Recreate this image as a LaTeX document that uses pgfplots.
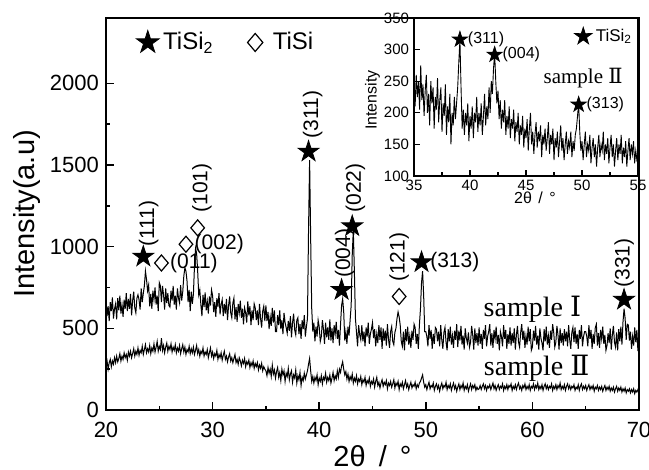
\documentclass[border=0pt]{standalone}
\usepackage{pgfplots}
\usepackage{pgfplotstable}
\usepackage{fontspec}
\pgfplotsset{compat=1.18}
\setmainfont{Liberation Sans}
\newfontfamily\serifnum{Liberation Serif}
\newfontfamily\romnum{DejaVu Serif}

% filled five-pointed star and open diamond
\pgfdeclareplotmark{fstar}{%
  \pgfpathmoveto{\pgfpointpolar{90}{\pgfplotmarksize}}%
  \pgfpathlineto{\pgfpointpolar{126}{0.38\pgfplotmarksize}}%
  \pgfpathlineto{\pgfpointpolar{162}{\pgfplotmarksize}}%
  \pgfpathlineto{\pgfpointpolar{198}{0.38\pgfplotmarksize}}%
  \pgfpathlineto{\pgfpointpolar{234}{\pgfplotmarksize}}%
  \pgfpathlineto{\pgfpointpolar{270}{0.38\pgfplotmarksize}}%
  \pgfpathlineto{\pgfpointpolar{306}{\pgfplotmarksize}}%
  \pgfpathlineto{\pgfpointpolar{342}{0.38\pgfplotmarksize}}%
  \pgfpathlineto{\pgfpointpolar{18}{\pgfplotmarksize}}%
  \pgfpathlineto{\pgfpointpolar{54}{0.38\pgfplotmarksize}}%
  \pgfpathclose\pgfusepathqfillstroke}
\pgfdeclareplotmark{odiam}{%
  \pgfpathmoveto{\pgfpoint{0pt}{\pgfplotmarksize}}%
  \pgfpathlineto{\pgfpoint{0.85\pgfplotmarksize}{0pt}}%
  \pgfpathlineto{\pgfpoint{0pt}{-\pgfplotmarksize}}%
  \pgfpathlineto{\pgfpoint{-0.85\pgfplotmarksize}{0pt}}%
  \pgfpathclose\pgfusepathqfillstroke}
\pgfplotsset{dotlegend/.style={legend image code/.code={\draw[##1] plot coordinates {(0.1cm,0cm)};}}}

% sample I, 2theta (deg) vs intensity
\pgfplotstableread{
x y
20.0 675
20.1 575
20.2 635
20.3 545
20.4 660
20.5 605
20.6 690
20.7 560
20.8 620
20.9 650
21.0 555
21.1 685
21.2 610
21.3 700
21.4 590
21.5 645
21.6 570
21.7 675
21.8 620
21.9 715
22.0 605
22.1 680
22.2 620
22.3 710
22.4 580
22.5 670
22.6 725
22.7 625
22.8 595
22.9 685
23.0 705
23.1 675
23.2 615
23.3 745
23.4 660
23.5 715
23.6 760
23.7 850
23.8 800
23.9 730
24.0 765
24.1 635
24.2 710
24.3 620
24.4 730
24.5 675
24.6 750
24.7 645
24.8 700
24.9 605
25.0 780
25.1 760
25.2 660
25.3 760
25.4 705
25.5 615
25.6 745
25.7 655
25.8 715
25.9 640
26.0 630
26.1 730
26.2 670
26.3 760
26.4 645
26.5 700
26.6 615
26.7 745
26.8 685
26.9 655
27.0 765
27.1 670
27.2 725
27.3 820
27.4 870
27.5 850
27.6 790
27.7 660
27.8 735
27.9 605
28.0 725
28.1 650
28.2 710
28.3 880
28.4 990
28.5 960
28.6 850
28.7 705
28.8 735
28.9 645
29.0 575
29.1 705
29.2 630
29.3 720
29.4 610
29.5 665
29.6 590
29.7 695
29.8 640
29.9 735
30.0 700
30.1 600
30.2 660
30.3 570
30.4 685
30.5 630
30.6 715
30.7 585
30.8 645
30.9 675
31.0 575
31.1 650
31.2 590
31.3 680
31.4 550
31.5 640
31.6 695
31.7 595
31.8 565
31.9 655
32.0 685
32.1 555
32.2 630
32.3 540
32.4 650
32.5 595
32.6 670
32.7 565
32.8 620
32.9 525
33.0 625
33.1 595
33.2 535
33.3 665
33.4 580
33.5 635
33.6 520
33.7 610
33.8 550
33.9 650
34.0 625
34.1 550
34.2 610
34.3 520
34.4 650
34.5 560
34.6 505
34.7 605
34.8 635
34.9 545
35.0 640
35.1 545
35.2 600
35.3 495
35.4 570
35.5 515
35.6 625
35.7 535
35.8 610
35.9 480
36.0 480
36.1 580
36.2 520
36.3 610
36.4 495
36.5 550
36.6 465
36.7 595
36.8 535
36.9 505
37.0 470
37.1 545
37.2 485
37.3 575
37.4 445
37.5 535
37.6 590
37.7 490
37.8 460
37.9 550
38.0 565
38.1 465
38.2 525
38.3 435
38.4 550
38.5 495
38.6 580
38.7 450
38.8 510
38.9 560
39.0 1100
39.1 1530
39.2 1050
39.3 620
39.4 480
39.5 535
39.6 420
39.7 510
39.8 450
39.9 550
40.0 510
40.1 420
40.2 450
40.3 550
40.4 495
40.5 405
40.6 535
40.7 445
40.8 505
40.9 430
41.0 555
41.1 425
41.2 500
41.3 410
41.4 520
41.5 465
41.6 540
41.7 435
41.8 490
41.9 395
42.0 520
42.1 640
42.2 680
42.3 600
42.4 425
42.5 480
42.6 405
42.7 510
42.8 455
42.9 550
43.0 640
43.1 950
43.2 1100
43.3 850
43.4 560
43.5 475
43.6 390
43.7 520
43.8 460
43.9 430
44.0 520
44.1 420
44.2 480
44.3 390
44.4 505
44.5 450
44.6 535
44.7 405
44.8 465
44.9 495
45.0 535
45.1 440
45.2 495
45.3 390
45.4 465
45.5 410
45.6 520
45.7 430
45.8 505
45.9 375
46.0 500
46.1 425
46.2 485
46.3 395
46.4 525
46.5 435
46.6 380
46.7 480
46.8 510
46.9 420
47.0 400
47.1 475
47.2 500
47.3 560
47.4 600
47.5 570
47.6 520
47.7 420
47.8 390
47.9 480
48.0 365
48.1 495
48.2 420
48.3 510
48.4 400
48.5 455
48.6 380
48.7 485
48.8 430
48.9 525
49.0 505
49.1 405
49.2 465
49.3 375
49.4 520
49.5 620
49.6 780
49.7 850
49.8 700
49.9 480
50.0 480
50.1 450
50.2 390
50.3 520
50.4 435
50.5 490
50.6 375
50.7 465
50.8 405
50.9 505
51.0 495
51.1 420
51.2 480
51.3 390
51.4 520
51.5 430
51.6 375
51.7 475
51.8 505
51.9 415
52.0 365
52.1 495
52.2 420
52.3 510
52.4 400
52.5 455
52.6 380
52.7 485
52.8 430
52.9 525
53.0 385
53.1 485
53.2 425
53.3 515
53.4 400
53.5 455
53.6 370
53.7 500
53.8 440
53.9 410
54.0 475
54.1 385
54.2 415
54.3 515
54.4 460
54.5 370
54.6 500
54.7 410
54.8 470
54.9 395
55.0 505
55.1 405
55.2 465
55.3 375
55.4 490
55.5 435
55.6 520
55.7 390
55.8 450
55.9 480
56.0 525
56.1 395
56.2 470
56.3 380
56.4 490
56.5 435
56.6 510
56.7 405
56.8 460
56.9 365
57.0 480
57.1 450
57.2 390
57.3 520
57.4 435
57.5 490
57.6 375
57.7 465
57.8 405
57.9 505
58.0 395
58.1 470
58.2 410
58.3 500
58.4 370
58.5 460
58.6 515
58.7 415
58.8 385
58.9 475
59.0 525
59.1 430
59.2 485
59.3 380
59.4 455
59.5 400
59.6 510
59.7 420
59.8 495
59.9 365
60.0 385
60.1 485
60.2 425
60.3 515
60.4 400
60.5 455
60.6 370
60.7 500
60.8 440
60.9 410
61.0 365
61.1 495
61.2 420
61.3 510
61.4 400
61.5 455
61.6 380
61.7 485
61.8 430
61.9 525
62.0 475
62.1 385
62.2 415
62.3 515
62.4 460
62.5 370
62.6 500
62.7 410
62.8 470
62.9 395
63.0 495
63.1 420
63.2 480
63.3 390
63.4 520
63.5 430
63.6 375
63.7 475
63.8 505
63.9 415
64.0 505
64.1 405
64.2 465
64.3 375
64.4 490
64.5 435
64.6 520
64.7 390
64.8 450
64.9 480
65.0 480
65.1 450
65.2 390
65.3 520
65.4 435
65.5 490
65.6 375
65.7 465
65.8 405
65.9 505
66.0 525
66.1 395
66.2 470
66.3 380
66.4 490
66.5 435
66.6 510
66.7 405
66.8 460
66.9 365
67.0 395
67.1 470
67.2 410
67.3 500
67.4 370
67.5 460
67.6 515
67.7 415
67.8 385
67.9 475
68.0 365
68.1 495
68.2 420
68.3 510
68.4 400
68.5 540
68.6 620
68.7 560
68.8 430
68.9 525
69.0 520
69.1 425
69.2 480
69.3 375
69.4 450
69.5 395
69.6 505
69.7 415
69.8 490
69.9 360
70.0 450
}\sampleone

% sample II
\pgfplotstableread{
x y
20.0 270
20.1 300
20.2 250
20.3 290
20.4 310
20.5 265
20.6 300
20.7 280
20.8 320
20.9 290
21.0 330
21.1 295
21.2 315
21.3 345
21.4 300
21.5 330
21.6 310
21.7 350
21.8 320
21.9 340
22.0 305
22.1 355
22.2 330
22.3 360
22.4 320
22.5 345
22.6 375
22.7 330
22.8 360
22.9 340
23.0 380
23.1 335
23.2 365
23.3 350
23.4 390
23.5 340
23.6 370
23.7 400
23.8 350
23.9 375
24.0 355
24.1 395
24.2 345
24.3 380
24.4 360
24.5 405
24.6 355
24.7 385
24.8 420
24.9 360
25.0 390
25.1 370
25.2 440
25.3 365
25.4 395
25.5 350
25.6 385
25.7 410
25.8 360
25.9 390
26.0 370
26.1 405
26.2 355
26.3 385
26.4 365
26.5 400
26.6 350
26.7 380
26.8 360
26.9 395
27.0 345
27.1 375
27.2 400
27.3 355
27.4 385
27.5 340
27.6 370
27.7 355
27.8 390
27.9 345
28.0 375
28.1 350
28.2 385
28.3 340
28.4 365
28.5 395
28.6 345
28.7 370
28.8 330
28.9 360
29.0 345
29.1 380
29.2 330
29.3 355
29.4 340
29.5 370
29.6 320
29.7 350
29.8 380
29.9 330
30.0 355
30.1 315
30.2 345
30.3 330
30.4 365
30.5 310
30.6 340
30.7 320
30.8 350
30.9 305
31.0 335
31.1 360
31.2 310
31.3 330
31.4 295
31.5 325
31.6 345
31.7 300
31.8 320
31.9 290
32.0 315
32.1 340
32.2 290
32.3 310
32.4 280
32.5 320
32.6 300
32.7 270
32.8 305
32.9 285
33.0 315
33.1 265
33.2 295
33.3 280
33.4 305
33.5 260
33.6 290
33.7 270
33.8 300
33.9 255
34.0 285
34.1 265
34.2 290
34.3 245
34.4 275
34.5 255
34.6 285
34.7 240
34.8 265
34.9 250
35.0 240
35.1 210
35.2 260
35.3 225
35.4 250
35.5 205
35.6 275
35.7 220
35.8 245
35.9 195
36.0 235
36.1 260
36.2 200
36.3 230
36.4 180
36.5 250
36.6 215
36.7 240
36.8 175
36.9 225
37.0 205
37.1 255
37.2 185
37.3 220
37.4 240
37.5 170
37.6 215
37.7 195
37.8 245
37.9 165
38.0 210
38.1 185
38.2 230
38.3 150
38.4 200
38.5 180
38.6 225
38.7 190
38.8 215
38.9 240
39.0 280
39.1 315
39.2 240
39.3 175
39.4 205
39.5 165
39.6 200
39.7 180
39.8 215
39.9 155
40.0 195
40.1 175
40.2 210
40.3 160
40.4 200
40.5 185
40.6 225
40.7 170
40.8 200
40.9 180
41.0 215
41.1 165
41.2 195
41.3 230
41.4 180
41.5 210
41.6 190
41.7 240
41.8 200
41.9 250
42.0 230
42.1 270
42.2 295
42.3 250
42.4 215
42.5 235
42.6 190
42.7 220
42.8 175
42.9 205
43.0 185
43.1 220
43.2 165
43.3 195
43.4 175
43.5 210
43.6 160
43.7 190
43.8 175
43.9 205
44.0 155
44.1 185
44.2 170
44.3 200
44.4 150
44.5 180
44.6 165
44.7 195
44.8 145
44.9 175
45.0 160
45.1 190
45.2 140
45.3 175
45.4 200
45.5 150
45.6 170
45.7 135
45.8 165
45.9 185
46.0 145
46.1 170
46.2 155
46.3 180
46.4 130
46.5 165
46.6 150
46.7 175
46.8 140
46.9 160
47.0 185
47.1 135
47.2 165
47.3 150
47.4 175
47.5 125
47.6 160
47.7 145
47.8 170
47.9 130
48.0 155
48.1 180
48.2 140
48.3 160
48.4 125
48.5 150
48.6 170
48.7 135
48.8 155
48.9 145
49.0 170
49.1 130
49.2 155
49.3 140
49.4 165
49.5 175
49.6 195
49.7 215
49.8 170
49.9 140
50.0 155
50.1 125
50.2 150
50.3 170
50.4 130
50.5 150
50.6 140
50.7 165
50.8 120
50.9 145
51.0 160
51.1 130
51.2 150
51.3 115
51.4 145
51.5 165
51.6 130
51.7 150
51.8 140
51.9 170
52.0 125
52.1 150
52.2 135
52.3 160
52.4 120
52.5 145
52.6 165
52.7 130
52.8 150
52.9 115
53.0 140
53.1 160
53.2 125
53.3 150
53.4 135
53.5 165
53.6 120
53.7 145
53.8 130
53.9 155
54.0 115
54.1 140
54.2 160
54.3 125
54.4 150
54.5 135
54.6 155
54.7 120
54.8 140
54.9 125
55.0 130
55.1 150
55.2 125
55.3 145
55.4 160
55.5 130
55.6 150
55.7 120
55.8 145
55.9 135
56.0 155
56.1 125
56.2 145
56.3 165
56.4 130
56.5 150
56.6 120
56.7 140
56.8 155
56.9 125
57.0 145
57.1 135
57.2 160
57.3 120
57.4 145
57.5 130
57.6 155
57.7 125
57.8 150
57.9 140
58.0 160
58.1 120
58.2 145
58.3 130
58.4 155
58.5 125
58.6 150
58.7 165
58.8 130
58.9 145
59.0 120
59.1 150
59.2 135
59.3 160
59.4 125
59.5 145
59.6 130
59.7 155
59.8 120
59.9 145
60.0 135
60.1 160
60.2 125
60.3 150
60.4 135
60.5 165
60.6 125
60.7 145
60.8 130
60.9 155
61.0 120
61.1 145
61.2 160
61.3 130
61.4 150
61.5 125
61.6 145
61.7 135
61.8 160
61.9 120
62.0 145
62.1 130
62.2 155
62.3 125
62.4 150
62.5 135
62.6 165
62.7 125
62.8 145
62.9 130
63.0 155
63.1 120
63.2 145
63.3 160
63.4 130
63.5 150
63.6 125
63.7 145
63.8 135
63.9 155
64.0 120
64.1 140
64.2 130
64.3 155
64.4 120
64.5 145
64.6 160
64.7 125
64.8 145
64.9 130
65.0 150
65.1 120
65.2 140
65.3 155
65.4 125
65.5 145
65.6 130
65.7 150
65.8 115
65.9 140
66.0 130
66.1 150
66.2 120
66.3 140
66.4 125
66.5 145
66.6 115
66.7 135
66.8 150
66.9 120
67.0 140
67.1 125
67.2 145
67.3 115
67.4 135
67.5 120
67.6 140
67.7 110
67.8 130
67.9 145
68.0 115
68.1 135
68.2 120
68.3 140
68.4 110
68.5 130
68.6 115
68.7 135
68.8 105
68.9 125
69.0 115
69.1 130
69.2 105
69.3 125
69.4 110
69.5 130
69.6 100
69.7 120
69.8 110
69.9 125
70.0 105
}\sampletwo

\begin{document}
\begin{tikzpicture}
\useasboundingbox (-53pt,-30pt) rectangle (271.5pt,205pt);
\begin{axis}[
    at={(0,0)}, anchor=south west,
    width=266.5pt, height=196pt, scale only axis,
    xmin=20, xmax=70, ymin=0, ymax=2400,
    xtick={20,30,...,70}, ytick={0,500,...,2000},
    minor x tick num=1, minor y tick num=1,
    tick align=inside, xtick pos=bottom, ytick pos=left,
    major tick length=4pt, minor tick length=2.2pt,
    axis line style={line width=0.9pt},
    every tick/.style={black, line width=0.8pt},
    tick label style={font=\fontsize{11}{13}\selectfont},
    xticklabel style={yshift=-2.5pt},
    /pgf/number format/assume math mode=true,
    /pgf/number format/1000 sep={},
    xlabel={2θ\hspace{0.45em}/\hspace{0.45em}°},
    ylabel={Intensity(a.u)},
    label style={font=\fontsize{14.5}{16}\selectfont},
    xlabel style={at={(axis description cs:0.5,-0.118)}, anchor=center},
    ylabel style={at={(axis description cs:-0.148,0.5)}, anchor=center},
    legend style={at={(0.045,0.985)}, anchor=north west, draw=none, fill=none,
        font=\fontsize{12}{14}\selectfont, legend columns=-1,
        /tikz/every even column/.append style={column sep=15pt}},
]
\addplot[black, line width=0.5pt, forget plot] table[x=x, y=y] {\sampleone};
\addplot[black, line width=0.5pt, forget plot] table[x=x, y=y] {\sampletwo};
% legend marks
\addplot[only marks, mark=fstar, mark size=6pt, black, dotlegend]
    coordinates {(-10,-10)};
\addlegendentry{TiSi\textsubscript{2}}
\addplot[only marks, mark=odiam, mark size=4.5pt, black, mark options={fill=white, line width=0.6pt}, dotlegend]
    coordinates {(-10,-10)};
\addlegendentry{\hspace{3pt}TiSi}
% TiSi2 reflections
\addplot[only marks, mark=fstar, mark size=5.5pt, black, forget plot] coordinates {
    (23.5,939) (39.0,1582) (42.1,735) (43.1,1125) (49.6,905) (68.6,675)};
% TiSi reflections
\addplot[only marks, mark=odiam, mark size=4pt, black, mark options={fill=white, line width=0.6pt}, forget plot]
    coordinates {(25.2,900) (27.5,1015) (28.6,1115) (47.5,695)};
\begin{scope}[font=\fontsize{10.5}{12}\selectfont]
\node[rotate=90, anchor=west, inner sep=1pt] at (axis cs:24.0,985) {(111)};
\node[anchor=west, inner sep=1pt] at (axis cs:25.8,900) {(011)};
\node[anchor=west, inner sep=1pt] at (axis cs:28.1,1015) {(002)};
\node[rotate=90, anchor=west, inner sep=1pt] at (axis cs:29.0,1195) {(101)};
\node[rotate=90, anchor=west, inner sep=1pt] at (axis cs:39.4,1650) {(311)};
\node[rotate=90, anchor=west, inner sep=1pt] at (axis cs:43.4,1195) {(022)};
\node[rotate=90, anchor=west, inner sep=1pt] at (axis cs:42.4,795) {(004)};
\node[rotate=90, anchor=west, inner sep=1pt] at (axis cs:47.5,770) {(121)};
\node[anchor=west, inner sep=1pt] at (axis cs:50.2,905) {(313)};
\node[rotate=90, anchor=west, inner sep=1pt] at (axis cs:68.6,735) {(331)};
\end{scope}
\node[font=\serifnum\fontsize{14}{16}\selectfont, anchor=base] at (axis cs:60.0,572) {sample {\romnum Ⅰ}};
\node[font=\serifnum\fontsize{14}{16}\selectfont, anchor=base] at (axis cs:60.4,214) {sample {\romnum Ⅱ}};
\end{axis}

% inset
\begin{axis}[
    at={(154pt,117pt)}, anchor=south west,
    width=112pt, height=79pt, scale only axis,
    axis background/.style={fill=white},
    xmin=35, xmax=55, ymin=100, ymax=350,
    xtick={35,40,...,55}, ytick={100,150,...,350},
    minor x tick num=1,
    tick align=inside, xtick pos=bottom, ytick pos=left,
    major tick length=3pt, minor tick length=1.8pt,
    axis line style={line width=0.8pt},
    every tick/.style={black, line width=0.6pt},
    tick label style={font=\fontsize{7.5}{9}\selectfont},
    xticklabel style={yshift=1.5pt},
    yticklabel style={xshift=1pt},
    /pgf/number format/assume math mode=true,
    xlabel={2θ\hspace{0.4em}/\hspace{0.4em}°},
    ylabel={Intensity},
    label style={font=\fontsize{8}{10}\selectfont},
    xlabel style={at={(axis description cs:0.54,-0.14)}, anchor=center},
    ylabel style={at={(axis description cs:-0.185,0.48)}, anchor=center},
    legend style={at={(1.02,0.985)}, anchor=north east, draw=none, fill=none,
        font=\fontsize{8.5}{10}\selectfont},
]
\addplot[black, line width=0.45pt, forget plot] table[x=x, y=y] {\sampletwo};
\addplot[only marks, mark=fstar, mark size=4.5pt, black, dotlegend]
    coordinates {(0,0)};
\addlegendentry{TiSi\textsubscript{2}}
\addplot[only marks, mark=fstar, mark size=4pt, black, forget plot]
    coordinates {(39.1,316) (42.2,292) (49.7,213)};
\begin{scope}[font=\fontsize{8}{10}\selectfont]
\node[anchor=west, inner sep=1pt] at (axis cs:39.6,316) {(311)};
\node[anchor=west, inner sep=1pt] at (axis cs:42.7,292) {(004)};
\node[anchor=west, inner sep=1pt] at (axis cs:50.2,213) {(313)};
\end{scope}
\node[font=\serifnum\fontsize{10.5}{12}\selectfont, anchor=base] at (axis cs:50.1,247) {sample {\romnum Ⅱ}};
\end{axis}
\end{tikzpicture}
\end{document}
